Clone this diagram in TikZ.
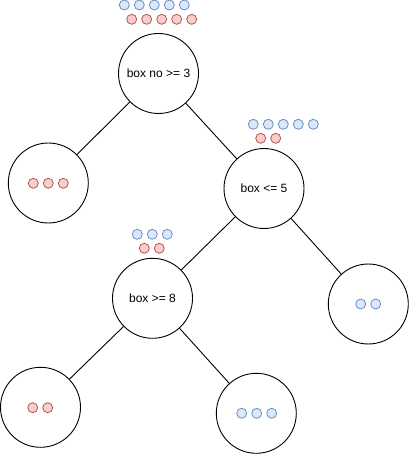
\documentclass[tikz,border=0pt]{standalone}
\usepackage{fontspec}
\setmainfont{Liberation Sans}
\begin{document}
\begin{tikzpicture}[x=1pt,y=-1pt,
  treenode/.style={circle,draw=black,line width=0.9pt,minimum size=80pt,inner sep=0pt,font=\fontsize{12}{14}\selectfont},
  bluedot/.style={circle,draw={rgb,255:red,108;green,142;blue,191},fill={rgb,255:red,218;green,232;blue,252},line width=0.8pt,minimum size=10pt,inner sep=0pt},
  reddot/.style={circle,draw={rgb,255:red,184;green,84;blue,80},fill={rgb,255:red,248;green,206;blue,204},line width=0.8pt,minimum size=10pt,inner sep=0pt},
  edge/.style={draw=black,line width=0.9pt}]
\useasboundingbox (0,0) rectangle (409,454);
\node[treenode] (root) at (158.5,73.5) {box no >= 3};
\node[treenode] (n5) at (264,188.5) {box <= 5};
\node[treenode] (leafL) at (48.3,183) {};
\node[treenode] (n8) at (152.5,298.3) {box >= 8};
\node[treenode] (leafR) at (368.3,304) {};
\node[treenode] (leafBL) at (40.5,407.3) {};
\node[treenode] (leafBM) at (256.3,413.3) {};
\draw[edge] (root) -- (leafL);
\draw[edge] (root) -- (n5);
\draw[edge] (n5) -- (n8);
\draw[edge] (n5) -- (leafR);
\draw[edge] (n8) -- (leafBL);
\draw[edge] (n8) -- (leafBM);
% dots
\foreach \i in {0,...,4} \node[bluedot] (rb\i) at (124.3+15*\i,5) {};
\foreach \i in {0,...,4} \node[reddot] (rr\i) at (131.7+15*\i,19.3) {};
\foreach \i in {0,...,4} \node[bluedot] (fb\i) at (253.3+15*\i,124.3) {};
\foreach \i in {0,1} \node[reddot] (fr\i) at (260.7+15*\i,138.3) {};
\foreach \i in {0,...,2} \node[reddot] (lr\i) at (33.3+15*\i,183.3) {};
\foreach \i in {0,...,2} \node[bluedot] (eb\i) at (137.3+15*\i,234.3) {};
\foreach \i in {0,1} \node[reddot] (er\i) at (144.3+15*\i,248.3) {};
\foreach \i in {0,1} \node[bluedot] (rlb\i) at (360.7+15*\i,304) {};
\foreach \i in {0,1} \node[reddot] (blr\i) at (32.7+15*\i,407.7) {};
\foreach \i in {0,...,2} \node[bluedot] (bmb\i) at (241.7+15*\i,413.3) {};
\end{tikzpicture}
\end{document}
